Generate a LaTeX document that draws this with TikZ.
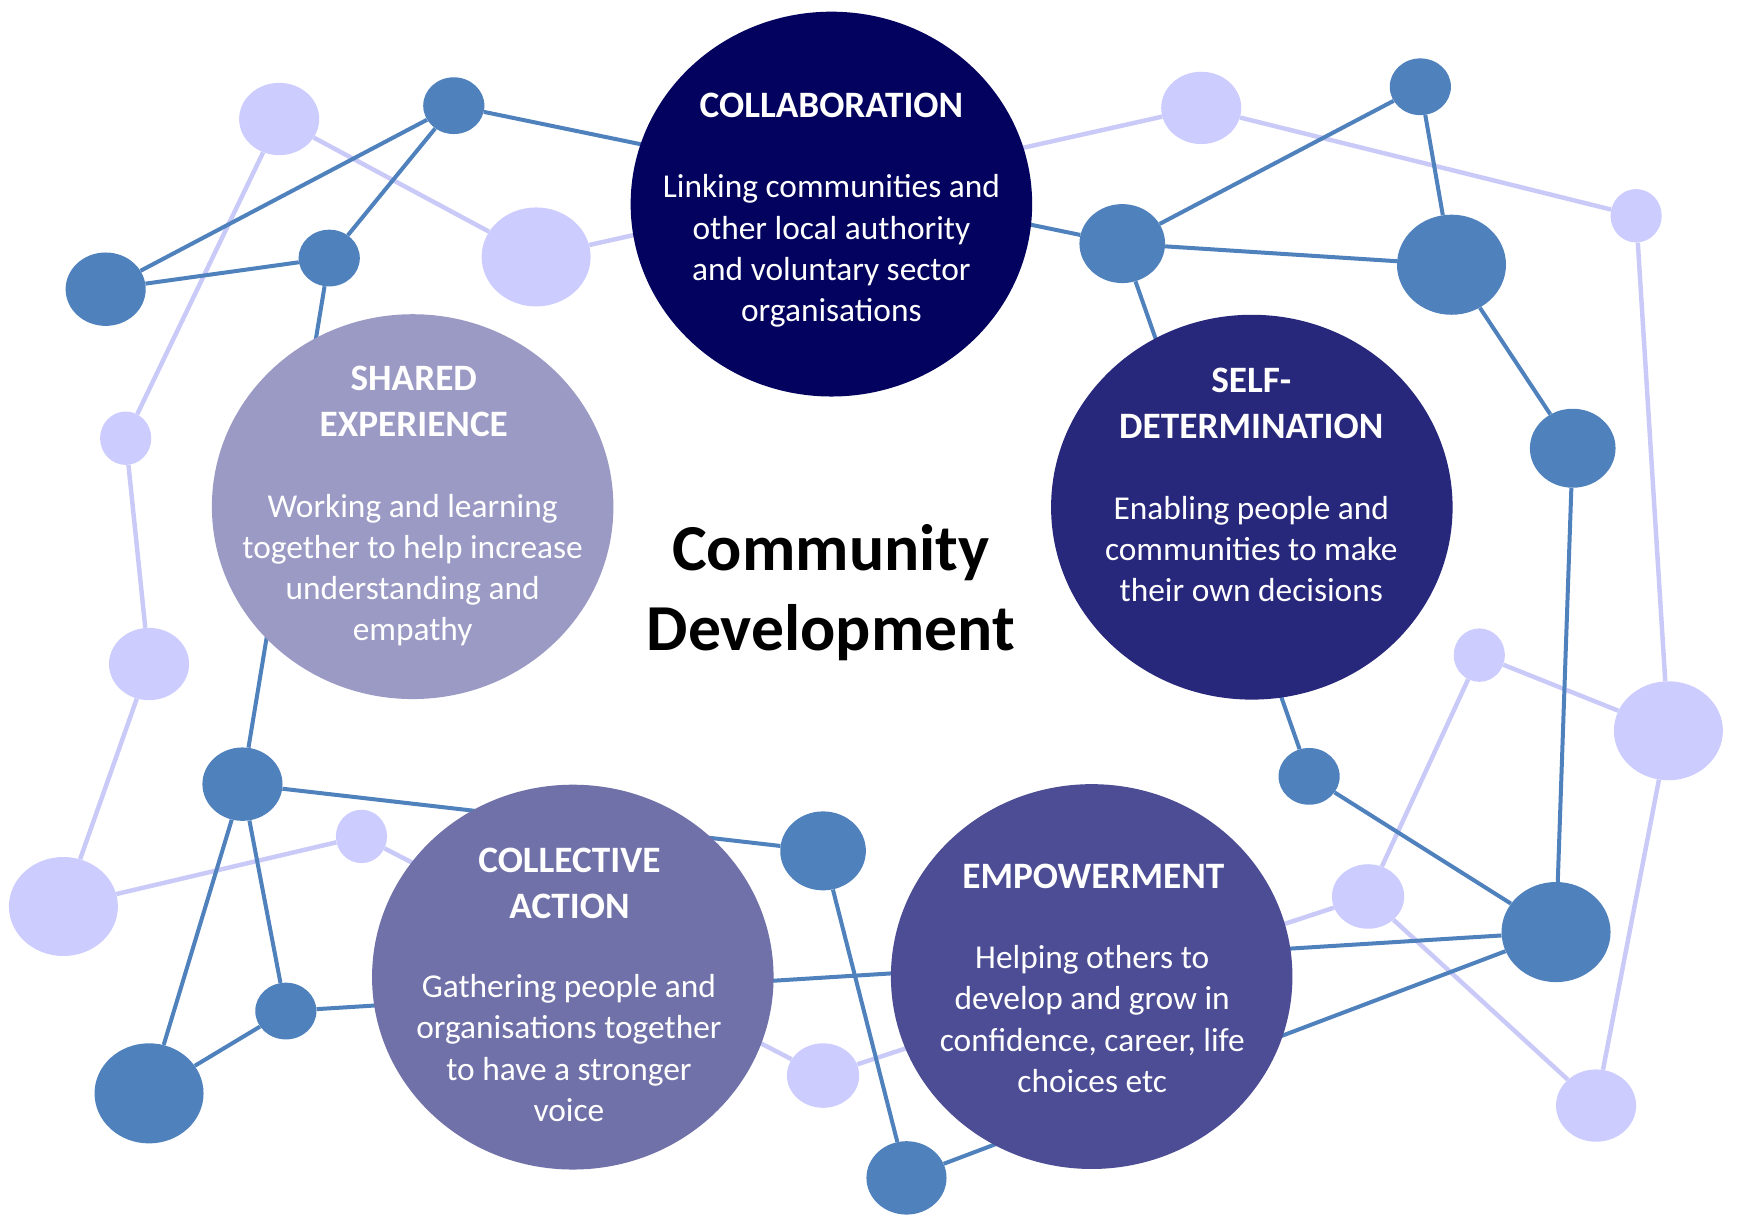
\documentclass[tikz,border=0pt]{standalone}
\usepackage{fontspec}
\setmainfont{Carlito}
\usetikzlibrary{shapes.geometric}
\definecolor{dotblue}{HTML}{4F81BD}
\definecolor{lightdot}{HTML}{CCCCFF}
\definecolor{lightline}{HTML}{CACAF8}
\definecolor{collabc}{HTML}{03035F}
\definecolor{selfc}{HTML}{27277B}
\definecolor{empc}{HTML}{4D4D95}
\definecolor{collc}{HTML}{7171A9}
\definecolor{sharedc}{HTML}{9A9AC5}
\pgfdeclarelayer{paper}
\pgfdeclarelayer{lightlayer}
\pgfdeclarelayer{bluelayer}
\pgfsetlayers{paper,lightlayer,bluelayer,main}
\newcommand{\mklines}[1]{\begin{tabular}[t]{@{}c@{}}#1\end{tabular}}
\begin{document}
\begin{tikzpicture}[x=1pt,y=1pt,
  bigc/.style={ellipse, inner sep=0pt, minimum width=361pt, minimum height=346pt},
  bdot/.style={ellipse, inner sep=0pt, fill=dotblue},
  ldot/.style={ellipse, inner sep=0pt, fill=lightdot},
  bL/.style={bdot, minimum width=98pt, minimum height=90pt},
  bM/.style={bdot, minimum width=72pt, minimum height=66pt},
  bMM/.style={bdot, minimum width=77pt, minimum height=71pt},
  bS/.style={bdot, minimum width=55pt, minimum height=51pt},
  lL/.style={ldot, minimum width=98pt, minimum height=89pt},
  lM/.style={ldot, minimum width=72pt, minimum height=65pt},
  lI/.style={ldot, minimum width=65pt, minimum height=58pt},
  lS/.style={ldot, minimum width=46pt, minimum height=48pt},
  lightlink/.style={draw=lightline, line width=4pt},
  bluelink/.style={draw=dotblue, line width=3.6pt},
  ttl/.style={anchor=base, text=white, inner sep=0pt, font=\fontsize{33.5}{41.5}\selectfont\bfseries},
  bodytext/.style={anchor=base, text=white, inner sep=0pt, font=\fontsize{30}{37}\selectfont},
  maintitle/.style={anchor=base, text=black, inner sep=0pt, font=\fontsize{59}{72}\selectfont\bfseries}]
\useasboundingbox (0,0) rectangle (1568,-1101);
\begin{pgfonlayer}{paper}
\fill[white] (0,0) rectangle (1568,-1101);
\end{pgfonlayer}

% light dots
\node[lM] (la) at (251,-107) {};
\node[lL] (lb) at (482,-231) {};
\node[lM] (lc) at (1080,-97) {};
\node[lS] (ld) at (1471,-194) {};
\node[lS] (le) at (113,-394) {};
\node[lM] (lf) at (134,-597) {};
\node[lL] (lg) at (57,-815) {};
\node[lS] (lh) at (325,-752) {};
\node[lI] (li) at (740,-967) {};
\node[lI] (lj) at (1230,-806) {};
\node[lS] (lk) at (1330,-589) {};
\node[lL] (ll) at (1500,-657) {};
\node[lM] (lm) at (1435,-994) {};

% blue dots
\node[bS] (b1) at (408,-95) {};
\node[bM] (b2) at (95,-260) {};
\node[bS] (b3) at (296,-232) {};
\node[bS] (b4) at (1277,-78) {};
\node[bMM] (b5) at (1009,-219) {};
\node[bL] (b6) at (1305,-238) {};
\node[bMM] (b7) at (1414,-403) {};
\node[bS] (b8) at (1177,-698) {};
\node[bL] (b9) at (1399,-838) {};
\node[bM] (b10) at (218,-705) {};
\node[bMM] (b11) at (740,-765) {};
\node[bS] (b12) at (257,-909) {};
\node[bL] (b13) at (134,-983) {};
\node[bM] (b14) at (815,-1059) {};

% main circles
\node[bigc, fill=collabc] (collab) at (747.5,-183.5) {};
\node[bigc, fill=sharedc] (shared) at (371,-455.5) {};
\node[bigc, fill=selfc] (selfdet) at (1125.5,-456) {};
\node[bigc, fill=collc] (collective) at (515,-878.5) {};
\node[bigc, fill=empc] (empower) at (981.5,-878) {};

% texts
\node[ttl] (collabt) at (747.5,-106) {\mklines{COLLABORATION}};
\node[bodytext] (collabb) at (747.5,-178) {\mklines{Linking communities and\\other local authority\\and voluntary sector\\organisations}};
\node[ttl] (sharedt) at (372,-351) {\mklines{SHARED\\EXPERIENCE}};
\node[bodytext] (sharedb) at (371,-465) {\mklines{Working and learning\\together to help increase\\understanding and\\empathy}};
\node[ttl] (selft) at (1125,-353) {\mklines{SELF-\\DETERMINATION}};
\node[bodytext] (selfb) at (1125,-467) {\mklines{Enabling people and\\communities to make\\their own decisions}};
\node[ttl] (collt) at (512,-784) {\mklines{COLLECTIVE\\ACTION}};
\node[bodytext] (collb) at (511.5,-897) {\mklines{Gathering people and\\organisations together\\to have a stronger\\voice}};
\node[ttl] (empt) at (983,-799) {\mklines{EMPOWERMENT}};
\node[bodytext] (empb) at (982,-871) {\mklines{Helping others to\\develop and grow in\\confidence, career, life\\choices etc}};
\node[maintitle] (title) at (747,-513) {\mklines{Community\\Development}};

\begin{pgfonlayer}{lightlayer}
\draw[lightlink] (la) -- (lb);
\draw[lightlink] (la) -- (le);
\draw[lightlink] (lb) -- (lc);
\draw[lightlink] (lc) -- (ld);
\draw[lightlink] (ld) -- (ll);
\draw[lightlink] (le) -- (lf);
\draw[lightlink] (lf) -- (lg);
\draw[lightlink] (lg) -- (lh);
\draw[lightlink] (lh) -- (li);
\draw[lightlink] (li) -- (lj);
\draw[lightlink] (lj) -- (lk);
\draw[lightlink] (lj) -- (lm);
\draw[lightlink] (lk) -- (ll);
\draw[lightlink] (ll) -- (lm);
\end{pgfonlayer}

\begin{pgfonlayer}{bluelayer}
\draw[bluelink] (b1) -- (b2);
\draw[bluelink] (b2) -- (b3);
\draw[bluelink] (b3) -- (b1);
\draw[bluelink] (b1) -- (b5);
\draw[bluelink] (b5) -- (b4);
\draw[bluelink] (b5) -- (b6);
\draw[bluelink] (b4) -- (b6);
\draw[bluelink] (b6) -- (b7);
\draw[bluelink] (b7) -- (b9);
\draw[bluelink] (b5) -- (b8);
\draw[bluelink] (b8) -- (b9);
\draw[bluelink] (b12) -- (b9);
\draw[bluelink] (b14) -- (b9);
\draw[bluelink] (b3) -- (b10);
\draw[bluelink] (b10) -- (b11);
\draw[bluelink] (b10) -- (b13);
\draw[bluelink] (b10) -- (b12);
\draw[bluelink] (b12) -- (b13);
\draw[bluelink] (b11) -- (b14);
\end{pgfonlayer}
\end{tikzpicture}
\end{document}
